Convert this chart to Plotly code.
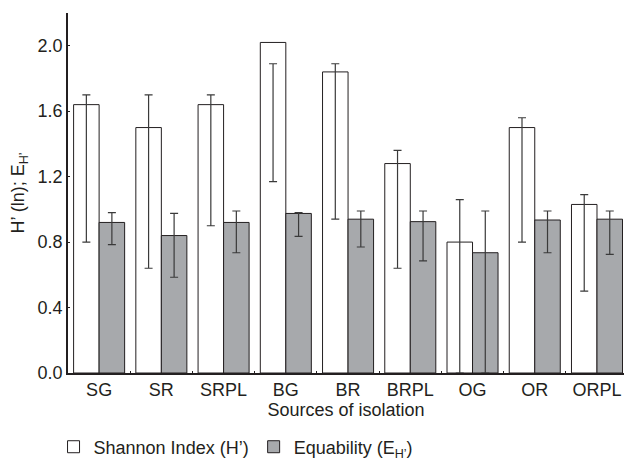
import plotly.graph_objects as go

# Sources of isolation and diversity statistics
categories = ["SG", "SR", "SRPL", "BG", "BR", "BRPL", "OG", "OR", "ORPL"]

shannon = [1.64, 1.50, 1.64, 2.02, 1.84, 1.28, 0.80, 1.50, 1.03]
shannon_max = [1.70, 1.70, 1.70, 1.89, 1.89, 1.36, 1.06, 1.56, 1.09]
shannon_min = [0.80, 0.64, 0.90, 1.17, 0.94, 0.64, 0.00, 0.80, 0.50]

equability = [0.92, 0.84, 0.92, 0.975, 0.94, 0.925, 0.735, 0.935, 0.94]
equability_max = [0.98, 0.975, 0.99, 0.98, 0.99, 0.99, 0.99, 0.99, 0.99]
equability_min = [0.785, 0.585, 0.735, 0.835, 0.77, 0.685, 0.00, 0.735, 0.725]

ink = "#231f20"
font_family = "Liberation Sans, Arial, Helvetica, sans-serif"
fs = 18


def err(values, hi, lo):
    return dict(
        type="data",
        symmetric=False,
        array=[h - v for h, v in zip(hi, values)],
        arrayminus=[v - l for v, l in zip(values, lo)],
        color="#3a3a3a",
        thickness=1.2,
        width=4,
    )


fig = go.Figure()
fig.add_trace(go.Bar(
    x=categories, y=shannon, name="Shannon Index (H’)",
    marker=dict(color="white", line=dict(color=ink, width=1)),
    error_y=err(shannon, shannon_max, shannon_min),
))
fig.add_trace(go.Bar(
    x=categories, y=equability, name="Equability (E<sub>H’</sub>)",
    marker=dict(color="#a7a9ac", line=dict(color=ink, width=1)),
    error_y=err(equability, equability_max, equability_min),
))

fig.update_layout(
    width=624, height=461,
    margin=dict(l=68, r=0, t=13, b=88, autoexpand=False),
    paper_bgcolor="white", plot_bgcolor="white",
    barmode="group", bargap=0.18, bargroupgap=0,
    font=dict(family=font_family, size=fs, color=ink),
    showlegend=True,
    legend=dict(
        orientation="h", x=-0.026, xanchor="left", y=-0.257, yanchor="bottom",
        font=dict(size=fs), bgcolor="rgba(0,0,0,0)",
    ),
    xaxis=dict(
        type="category", range=[-0.5, 8.434],
        showline=True, linecolor=ink, linewidth=1.5,
        ticks="inside", ticklen=2, tickcolor=ink, tickson="boundaries",
        showgrid=False, zeroline=False,
        title=dict(text="Sources of isolation", standoff=4, font=dict(size=fs)),
        tickfont=dict(size=fs),
    ),
    yaxis=dict(
        range=[0, 2.2], tickvals=[0, 0.4, 0.8, 1.2, 1.6, 2.0],
        ticktext=["0.0", "0.4", "0.8", "1.2", "1.6", "2.0"],
        showline=True, linecolor=ink, linewidth=1.5,
        ticks="inside", ticklen=2, tickcolor=ink,
        showgrid=False, zeroline=False,
        title=dict(text="H’ (ln); E<sub>H’</sub>", standoff=8, font=dict(size=fs)),
        tickfont=dict(size=fs),
    ),
)

fig.write_html("out.html")
